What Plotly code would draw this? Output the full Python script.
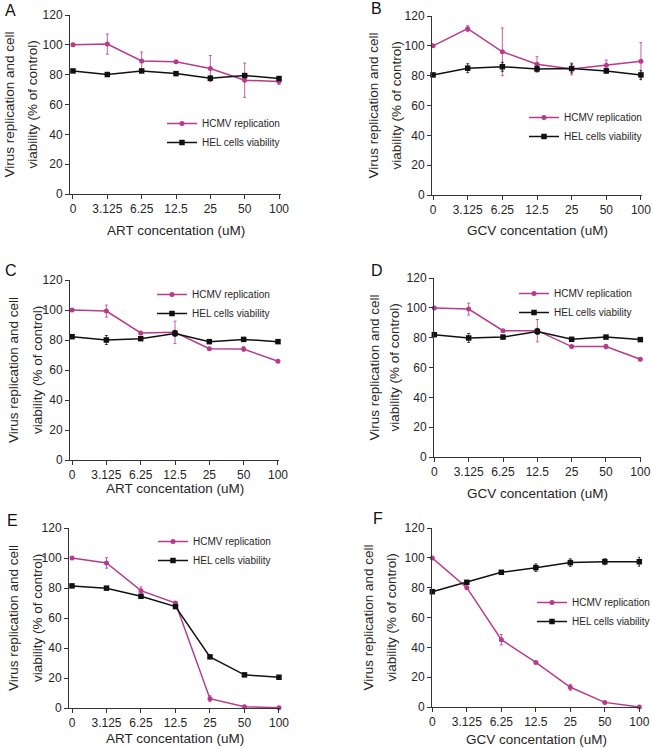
import plotly.graph_objects as go

W, H = 652, 748

concentrations = ["0", "3.125", "6.25", "12.5", "25", "50", "100"]
y_ticks = [0, 20, 40, 60, 80, 100, 120]

A_hcmv = [100, 100.5, 89.2, 88.6, 84.1, 76.3, 75.4]
A_hcmv_err = [0.3, 6.8, 6, 0.8, 8.7, 11.5, 2]
A_hel = [82.5, 80.1, 82.5, 80.7, 77.6, 79.4, 77.4]
A_hel_err = [0.5, 0.8, 0.5, 0.8, 1.5, 0.8, 0.8]

B_hcmv = [100, 111.5, 96, 87.7, 84.5, 87, 89.7]
B_hcmv_err = [0.3, 2, 16, 5, 4, 3.5, 12.5]
B_hel = [80.5, 85, 86, 84.5, 84.8, 83.2, 80.5]
B_hel_err = [0.5, 3, 3, 2, 3, 1.5, 3]

C_hcmv = [100, 99.3, 84.7, 85.1, 74.2, 74, 65.8]
C_hcmv_err = [0.3, 4, 0.8, 7.5, 0.8, 1.5, 0.8]
C_hel = [82.2, 80, 80.9, 84.4, 78.9, 80.4, 78.9]
C_hel_err = [0.5, 3, 0.5, 2, 0.5, 0.5, 0.5]

D_hcmv = [99.9, 99.2, 84.7, 84.7, 74, 74, 65.5]
D_hcmv_err = [0.3, 4, 0.8, 7.5, 0.8, 1.5, 0.8]
D_hel = [82, 79.8, 80.4, 84.2, 78.9, 80.4, 78.7]
D_hel_err = [0.5, 3, 0.5, 2, 0.5, 0.5, 0.5]

E_hcmv = [100, 96.7, 78.2, 70, 6.2, 0.9, 0.2]
E_hcmv_err = [0.5, 3.5, 2.5, 1, 2, 0.8, 0.3]
E_hel = [81.4, 79.9, 74.5, 67.6, 34.1, 22.1, 20.5]
E_hel_err = [1, 0.5, 1, 1, 0.8, 0.8, 0.8]

F_hcmv = [99.9, 80, 45.1, 29.9, 13.2, 3.1, 0]
F_hcmv_err = [0.5, 1, 3.5, 0.8, 2, 0.5, 0.3]
F_hel = [77.3, 83.6, 90.3, 93.4, 96.8, 97.4, 97.4]
F_hel_err = [1, 1, 1, 2.5, 2.5, 2, 3]

panel_labels = ["A", "B", "C", "D", "E", "F"]
x_titles = ["ART concentation (uM)", "GCV concentation (uM)",
            "ART concentation (uM)", "GCV concentation (uM)",
            "ART concentation (uM)", "GCV concentation (uM)"]
y_title_lines = ["Virus replication and cell", "viability (% of control)"]
series_names = ["HCMV replication", "HEL cells viability"]

hcmv = [A_hcmv, B_hcmv, C_hcmv, D_hcmv, E_hcmv, F_hcmv]
hcmv_err = [A_hcmv_err, B_hcmv_err, C_hcmv_err, D_hcmv_err, E_hcmv_err, F_hcmv_err]
hel = [A_hel, B_hel, C_hel, D_hel, E_hel, F_hel]
hel_err = [A_hel_err, B_hel_err, C_hel_err, D_hel_err, E_hel_err, F_hel_err]

MAG = "#B63B8C"
BLK = "#111111"
TXT = "#262626"
FONT = "Liberation Sans, Arial, sans-serif"

# layout geometry (pixels)
geo = [
    dict(x=(70, 281), y=(15, 194), xr=(-0.087, 6.058), yt=(-61, -38), xt=36, lab=(3, 10), leg=(202, 122)),
    dict(x=(432, 642), y=(16, 195), xr=(-0.03, 6.03), yt=(-59, -36), xt=35, lab=(369, 8), leg=(564, 116)),
    dict(x=(70, 279), y=(280, 460), xr=(-0.06, 6.03), yt=(-57, -33), xt=29, lab=(3, 270), leg=(192, 293)),
    dict(x=(434, 641), y=(278, 457), xr=(-0.01, 6.02), yt=(-60, -40), xt=36, lab=(369, 270), leg=(554, 292)),
    dict(x=(69, 280), y=(528, 708), xr=(-0.087, 6.03), yt=(-56, -32), xt=30, lab=(5, 520), leg=(193, 540)),
    dict(x=(432, 640), y=(528, 707), xr=(-0.01, 6.02), yt=(-64, -41), xt=32, lab=(371, 518), leg=(572, 601)),
]

def px(x):
    return x / W

def py(y):
    return 1 - y / H

fig = go.Figure()
layout = dict(
    width=W, height=H, autosize=False,
    margin=dict(l=0, r=0, t=0, b=0, autoexpand=False),
    paper_bgcolor="white", plot_bgcolor="white",
    font=dict(family=FONT, color=TXT, size=12),
    annotations=[],
)

xpos = list(range(len(concentrations)))

for i, g in enumerate(geo):
    n = i + 1
    xa = "x" if n == 1 else f"x{n}"
    ya = "y" if n == 1 else f"y{n}"
    lg = "legend" if n == 1 else f"legend{n}"
    fig.add_trace(go.Scatter(
        x=xpos, y=hcmv[i], xaxis=xa, yaxis=ya, name=series_names[0], legend=lg,
        mode="lines+markers", line=dict(color=MAG, width=1.5),
        marker=dict(symbol="circle", size=5, color=MAG),
        error_y=dict(type="data", array=hcmv_err[i], color=MAG, thickness=0.8, width=1.5),
        cliponaxis=False,
    ))
    fig.add_trace(go.Scatter(
        x=xpos, y=hel[i], xaxis=xa, yaxis=ya, name=series_names[1], legend=lg,
        mode="lines+markers", line=dict(color=BLK, width=1.5),
        marker=dict(symbol="square", size=5.5, color=BLK),
        error_y=dict(type="data", array=hel_err[i], color=BLK, thickness=0.8, width=1.5),
        cliponaxis=False,
    ))
    axis_common = dict(showline=True, linecolor="#333333", linewidth=1, ticks="outside",
                       ticklen=4, tickcolor="#333333", tickwidth=1, showgrid=False, zeroline=False,
                       tickfont=dict(family=FONT, size=12, color=TXT))
    layout["xaxis" if n == 1 else f"xaxis{n}"] = dict(
        domain=[px(g["x"][0]), px(g["x"][1])], anchor=ya, range=list(g["xr"]),
        tickmode="array", tickvals=xpos, ticktext=concentrations, fixedrange=True, **axis_common)
    layout["yaxis" if n == 1 else f"yaxis{n}"] = dict(
        domain=[py(g["y"][1]), py(g["y"][0])], anchor=xa, range=[0, 120],
        tickmode="array", tickvals=y_ticks, fixedrange=True, **axis_common)
    ymid = (g["y"][0] + g["y"][1]) / 2
    for k, line in enumerate(y_title_lines):
        layout["annotations"].append(dict(
            text=line, textangle=-90, xref="paper", yref="paper",
            x=px(g["x"][0] + g["yt"][k]), y=py(ymid), xanchor="center", yanchor="middle",
            showarrow=False, font=dict(family=FONT, size=13.5, color=TXT)))
    layout["annotations"].append(dict(
        text=x_titles[i], xref="paper", yref="paper",
        x=px((g["x"][0] + g["x"][1]) / 2), y=py(g["y"][1] + g["xt"]),
        xanchor="center", yanchor="middle", showarrow=False,
        font=dict(family=FONT, size=13.5, color=TXT)))
    layout["annotations"].append(dict(
        text=panel_labels[i], xref="paper", yref="paper",
        x=px(g["lab"][0]), y=py(g["lab"][1]), xanchor="left", yanchor="middle",
        showarrow=False, font=dict(family=FONT, size=16, color="#111111")))
    layout[lg] = dict(
        x=px(g["leg"][0] - 40), y=py(g["leg"][1] - 13), xanchor="left", yanchor="top",
        xref="paper", yref="paper", bgcolor="rgba(0,0,0,0)", borderwidth=0,
        font=dict(family=FONT, size=10, color=TXT), itemwidth=30, tracegroupgap=0,
    )

fig.update_layout(**layout)
fig.write_html("out.html", config={"displayModeBar": False},
               post_script="document.body.style.margin='0';document.body.style.overflow='hidden';")
